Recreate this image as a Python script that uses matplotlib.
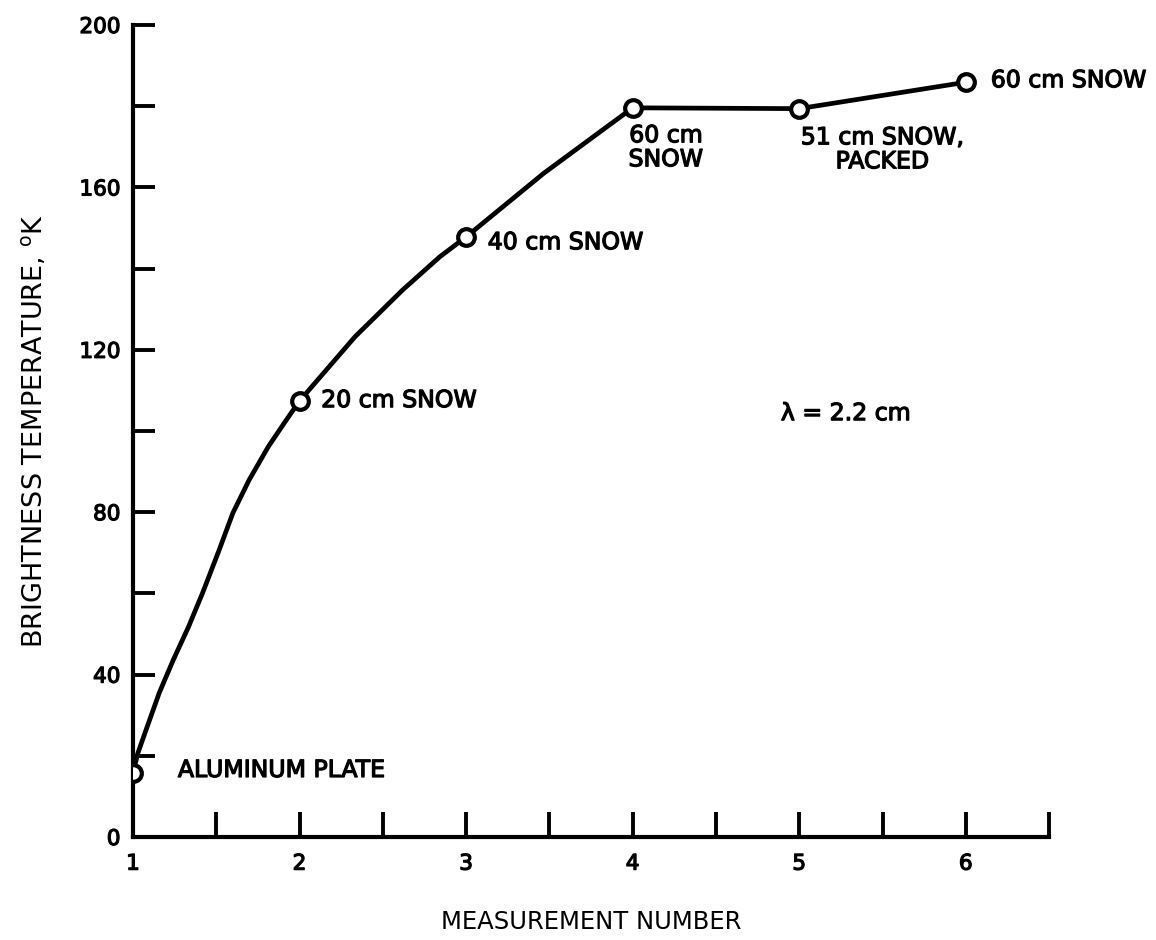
import matplotlib
matplotlib.use("Agg")
import matplotlib.pyplot as plt
import matplotlib.patheffects as pe
import numpy as np

meas_no = [1, 2, 3, 4, 5, 6]
temps = [15.8, 107.4, 147.8, 179.6, 179.4, 185.9]
labels = ["ALUMINUM PLATE", "20 cm SNOW", "40 cm SNOW", "60 cm\nSNOW",
          "51 cm SNOW,\nPACKED", "60 cm SNOW"]

# hand-drawn curve
curve_x = [1.0, 1.03, 1.085, 1.158, 1.242, 1.333, 1.418, 1.515, 1.6,
           1.697, 1.812, 1.909, 2.0, 2.333, 2.618, 2.842, 3.0, 3.467, 4.0,
           5.0, 6.0]
curve_y = [15.8, 20.7, 27.1, 35.5, 43.6, 51.7, 60.1, 70.4, 79.8,
           87.9, 96.1, 102.0, 107.4, 123.2, 134.7, 142.9, 147.8, 163.5, 179.6,
           179.4, 185.9]

plt.rcParams['font.family'] = ['DejaVu Sans']
bold = [pe.withStroke(linewidth=0.9, foreground='black')]

fig = plt.figure(figsize=(11.56, 9.40), dpi=100)
ax = fig.add_axes([0.115, 0.1096, 0.7925, 0.8638])

ax.plot(curve_x, curve_y, color='black', lw=3.4, solid_capstyle='round',
        solid_joinstyle='round', zorder=2)
ax.plot(meas_no, temps, linestyle='none', marker='o', ms=12, mfc='white',
        mec='black', mew=3, zorder=3)

# point labels
fs = 17
ax.text(1.27, 16.5, labels[0], fontsize=fs, va='center', ha='left', path_effects=bold)
ax.text(2.13, 107.6, labels[1], fontsize=fs, va='center', ha='left', path_effects=bold)
ax.text(3.13, 146.5, labels[2], fontsize=fs, va='center', ha='left', path_effects=bold)
ax.text(4.2, 175.8, labels[3], fontsize=fs, va='top', ha='center',
        linespacing=1.0, path_effects=bold)
ax.text(5.5, 175.3, labels[4], fontsize=fs, va='top', ha='center',
        linespacing=1.0, path_effects=bold)
ax.text(6.15, 186.4, labels[5], fontsize=fs, va='center', ha='left', path_effects=bold)
ax.text(4.89, 104.4, "λ = 2.2 cm", fontsize=fs, va='center', ha='left', path_effects=bold)

ax.set_xlim(1, 6.5)
ax.set_ylim(0, 200)
ax.set_xticks([1, 2, 3, 4, 5, 6])
ax.set_xticks(np.arange(1.5, 7, 1), minor=True)
ax.set_yticks(np.arange(0, 201, 40))
ax.set_yticks(np.arange(20, 200, 40), minor=True)

for s in ['top', 'right']:
    ax.spines[s].set_visible(False)
for s in ['left', 'bottom']:
    ax.spines[s].set_linewidth(3)

ax.tick_params(axis='both', which='both', direction='in', width=2.8, colors='black')
ax.tick_params(axis='y', which='both', length=16, pad=9, labelsize=15.5)
ax.tick_params(axis='x', which='both', length=18, pad=12, labelsize=15.5)
for t in ax.get_xticklabels() + ax.get_yticklabels():
    t.set_path_effects(bold)

ax.set_xlabel("MEASUREMENT NUMBER", fontsize=17.5, labelpad=26)
ax.set_ylabel("BRIGHTNESS TEMPERATURE, $^{\\mathrm{o}}$K", fontsize=19.5, labelpad=22)

fig.savefig("out.png", dpi=100)
